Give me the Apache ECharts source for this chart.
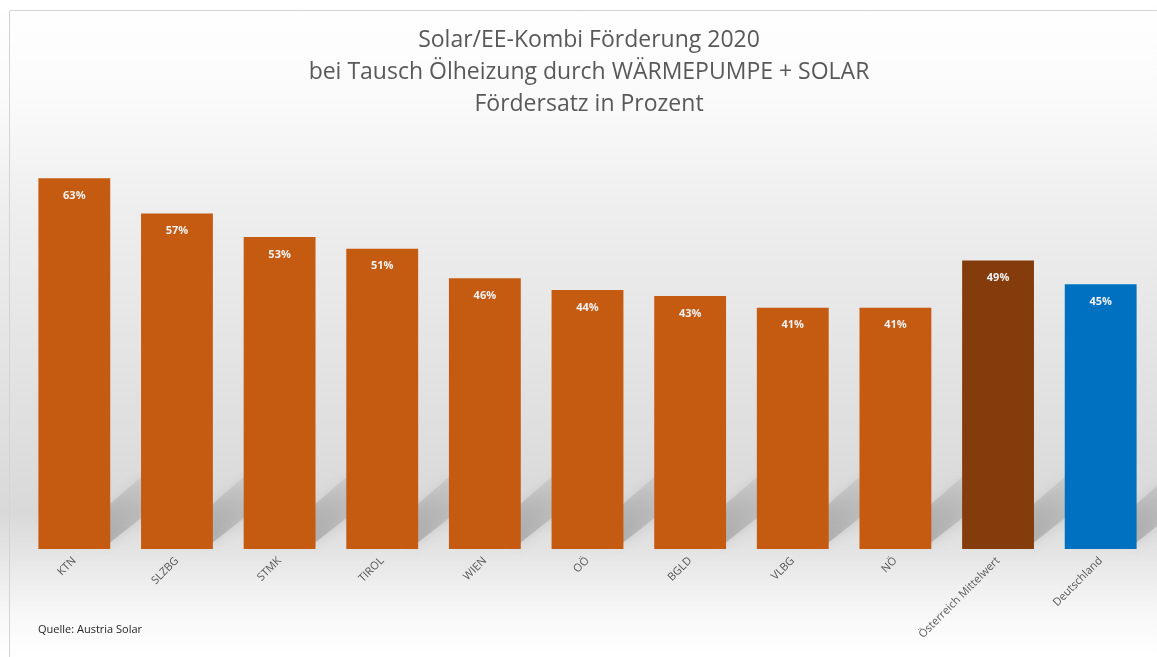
<!DOCTYPE html>
<html>
<head>
<meta charset="utf-8">
<title>Solar/EE-Kombi Förderung 2020</title>
<script src="https://cdn.jsdelivr.net/npm/echarts@6/dist/echarts.min.js"></script>
<style>
	html, body { margin: 0; padding: 0; background: #fff; }
	#chart { width: 1157px; height: 657px; }
</style>
</head>
<body>
<div id="chart"></div>
<script>
	// Kategorien und Werte (Fördersatz in %)
	const categories = ["KTN", "SLZBG", "STMK", "TIROL", "WIEN", "OÖ", "BGLD", "VLBG", "NÖ", "Österreich Mittelwert", "Deutschland"];
	const values = [63, 57, 53, 51, 46, 44, 43, 41, 41, 49, 45];
	const barColors = ["#c55a11", "#c55a11", "#c55a11", "#c55a11", "#c55a11", "#c55a11", "#c55a11", "#c55a11", "#c55a11", "#843c0c", "#0070c0"];
	const titleText = "Solar/EE-Kombi Förderung 2020\nbei Tausch Ölheizung durch WÄRMEPUMPE + SOLAR\nFördersatz in Prozent";
	const sourceText = "Quelle: Austria Solar";

	const chart = echarts.init(document.getElementById("chart"));

	// Schatten hinter den Balken (schräg nach rechts oben)
	function renderShadow(params, api) {
		const base = api.coord([api.value(0), 0]);
		const band = api.size([1, 0])[0];
		const xr = base[0] + band * 0.35;
		const y0 = base[1];
		return {
			type: "polygon",
			shape: {
				points: [
					[xr - 6, y0 - 2],
					[xr - 6, y0 - 40],
					[xr + 40, y0 - 80],
					[xr + 40, y0 - 38]
				]
			},
			style: {
				fill: new echarts.graphic.LinearGradient(0, 1, 1, 0, [
					{ offset: 0, color: "rgba(140,140,140,0.55)" },
					{ offset: 1, color: "rgba(160,160,160,0.15)" }
				]),
				shadowBlur: 12,
				shadowColor: "rgba(120,120,120,0.45)"
			},
			z2: 0
		};
	}

	const option = {
		backgroundColor: new echarts.graphic.LinearGradient(0, 0, 0, 1, [
			{ offset: 0, color: "#ffffff" },
			{ offset: 0.16, color: "#fafafa" },
			{ offset: 0.32, color: "#eeeeee" },
			{ offset: 0.78, color: "#d9d9d9" },
			{ offset: 0.84, color: "#e4e4e4" },
			{ offset: 0.93, color: "#f7f7f7" },
			{ offset: 1, color: "#ffffff" }
		]),
		animation: false,
		title: {
			text: titleText,
			left: 584,
			top: 19,
			textAlign: "center",
			textStyle: {
				fontFamily: "Open Sans",
				fontSize: 23,
				fontWeight: "normal",
				color: "#595959",
				lineHeight: 32
			}
		},
		grid: {
			left: 23,
			right: 5,
			top: 137,
			bottom: 108,
			containLabel: false
		},
		xAxis: {
			type: "category",
			data: categories,
			axisLine: { show: false },
			axisTick: { show: false },
			axisLabel: {
				rotate: 45,
				margin: 10,
				interval: 0,
				fontFamily: "Open Sans",
				fontSize: 11,
				color: "#595959"
			}
		},
		yAxis: {
			type: "value",
			min: 0,
			max: 70,
			show: false,
			splitLine: { show: false }
		},
		graphic: [
			{
				type: "rect",
				left: 7,
				top: 8,
				shape: { width: 1170, height: 670 },
				style: { fill: "none", stroke: "#d4d4d4", lineWidth: 1 },
				silent: true
			},
			{
				type: "text",
				left: 38,
				top: 624,
				style: {
					text: sourceText,
					font: "11px 'Open Sans'",
					fill: "#262626"
				}
			}
		],
		series: [
			{
				type: "custom",
				renderItem: renderShadow,
				data: values.map((v, i) => [i, v]),
				z: 1,
				silent: true
			},
			{
				type: "bar",
				barCategoryGap: "30%",
				z: 2,
				data: values.map((v, i) => ({
					value: v,
					itemStyle: { color: barColors[i] }
				})),
				label: {
					show: true,
					position: "insideTop",
					distance: 12,
					formatter: "{c}%",
					fontFamily: "Open Sans",
					fontSize: 11,
					fontWeight: "bold",
					color: "#f2f2f2"
				}
			}
		]
	};

	chart.setOption(option);
</script>
</body>
</html>
